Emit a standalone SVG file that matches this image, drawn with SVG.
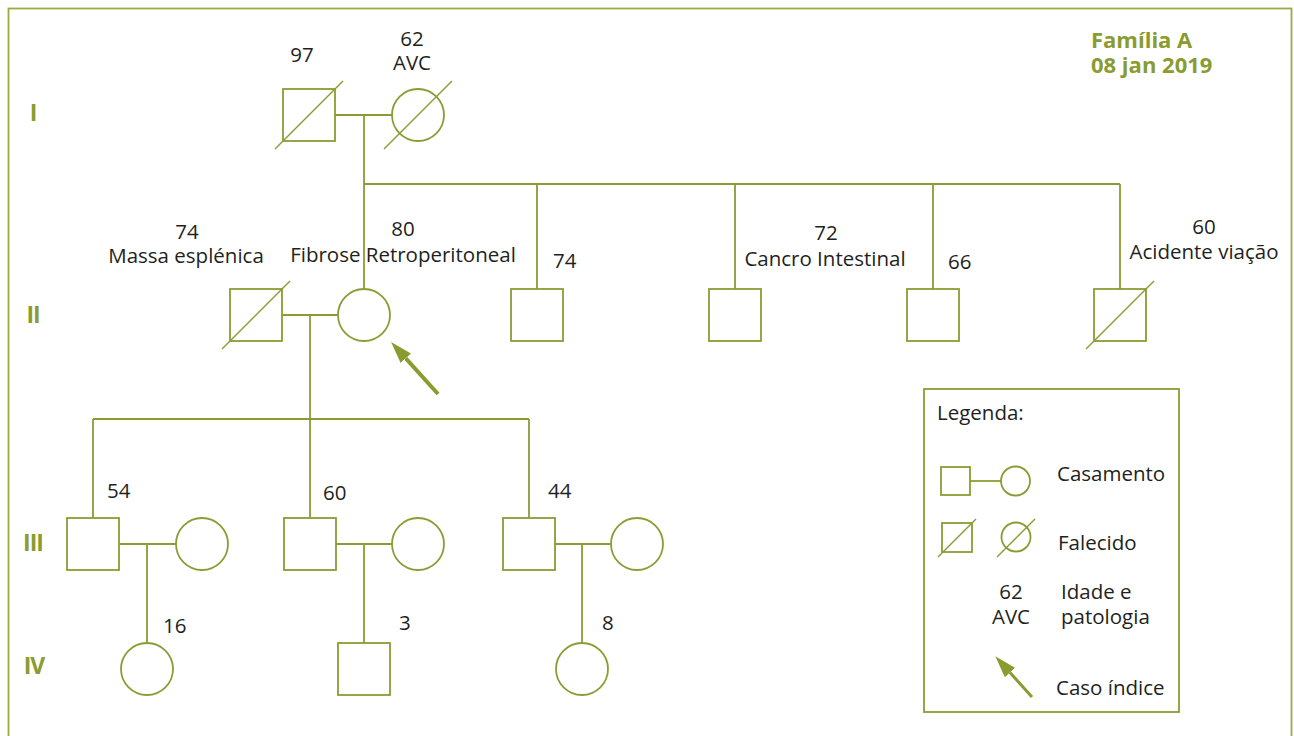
<svg xmlns="http://www.w3.org/2000/svg" width="1294" height="736" viewBox="0 0 1294 736">
<style>
.s{fill:#fff;stroke:#8c9c34;stroke-width:1.8}
.l{fill:none;stroke:#8c9c34;stroke-width:1.8}
.d{stroke:#8c9c34;stroke-width:1.5}
.t{font-family:"Open Sans","Noto Sans",sans-serif;font-size:20.5px;fill:#231f20}
.m{text-anchor:middle}
.g{font-family:"Open Sans","Noto Sans",sans-serif;font-weight:bold;fill:#8a9c30}
.r{font-size:23px;text-anchor:middle;letter-spacing:-1px}
.ti{font-size:22px}
</style>
<defs>
<marker id="ah" viewBox="0 0 22 14" refX="0" refY="7" markerWidth="22" markerHeight="14" markerUnits="userSpaceOnUse" orient="auto">
<path d="M0,0 L22,7 L0,14 z" fill="#8a9c30"/>
</marker>
</defs>
<rect x="8.5" y="8.5" width="1283" height="760" fill="#fff" stroke="#9aab45" stroke-width="1.8"/>
<g id="title">
<text class="g ti" x="1091" y="48">Família A</text>
<text class="g ti" x="1091" y="73">08 jan 2019</text>
</g>
<g id="generations">
<text class="g r" x="33" y="121">I</text>
<text class="g r" x="33" y="323">II</text>
<text class="g r" x="33" y="551">III</text>
<text class="g r" x="34" y="674">IV</text>
</g>
<g id="connectors">
<path class="l" d="M335,115 H392 M364,115 V184 M364,184 H1120 M364,184 V289 M537,184 V289 M735,184 V289 M933,184 V289 M1120,184 V289"/>
<path class="l" d="M283,315 H338 M310,315 V419 M93,419 H529 M93,419 V518 M310,419 V518 M529,419 V518"/>
<path class="l" d="M119,544 H176 M147,544 V643 M336,544 H392 M364,544 V643 M555,544 H611 M582,544 V643"/>
<line x1="438" y1="394" x2="405.8" y2="358.3" stroke="#8a9c30" stroke-width="4" marker-end="url(#ah)"/>
</g>
<g id="I-1">
<rect class="s" x="283" y="89" width="52" height="52"/>
<line class="d" x1="275" y1="149" x2="343" y2="81"/>
<text class="t m" x="302" y="62">97</text>
</g>
<g id="I-2">
<circle class="s" cx="418" cy="115" r="26"/>
<line class="d" x1="384" y1="149" x2="452" y2="81"/>
<text class="t m" x="412" y="46">62</text>
<text class="t m" x="412" y="70">AVC</text>
</g>
<g id="II-1">
<rect class="s" x="230" y="289" width="52" height="52"/>
<line class="d" x1="222" y1="349" x2="290" y2="281"/>
<text class="t m" x="187" y="239">74</text>
<text class="t m" x="186" y="263">Massa esplénica</text>
</g>
<g id="II-2">
<circle class="s" cx="364" cy="315" r="26"/>
<text class="t m" x="403" y="236">80</text>
<text class="t m" x="403" y="262">Fibrose Retroperitoneal</text>
</g>
<g id="II-3">
<rect class="s" x="511" y="289" width="52" height="52"/>
<text class="t" x="553" y="268">74</text>
</g>
<g id="II-4">
<rect class="s" x="709" y="289" width="52" height="52"/>
<text class="t m" x="826" y="240">72</text>
<text class="t m" x="825" y="266">Cancro Intestinal</text>
</g>
<g id="II-5">
<rect class="s" x="907" y="289" width="52" height="52"/>
<text class="t" x="948" y="269">66</text>
</g>
<g id="II-6">
<rect class="s" x="1094" y="289" width="52" height="52"/>
<line class="d" x1="1086" y1="349" x2="1154" y2="281"/>
<text class="t m" x="1204" y="234">60</text>
<text class="t m" x="1204" y="259">Acidente viação</text>
</g>
<g id="III-1">
<rect class="s" x="67" y="518" width="52" height="52"/>
<text class="t" x="107" y="498">54</text>
</g>
<g id="III-1s">
<circle class="s" cx="202" cy="544" r="26"/>
</g>
<g id="III-2">
<rect class="s" x="284" y="518" width="52" height="52"/>
<text class="t" x="323" y="500">60</text>
</g>
<g id="III-2s">
<circle class="s" cx="418" cy="544" r="26"/>
</g>
<g id="III-3">
<rect class="s" x="503" y="518" width="52" height="52"/>
<text class="t" x="548" y="498">44</text>
</g>
<g id="III-3s">
<circle class="s" cx="637" cy="544" r="26"/>
</g>
<g id="IV-1">
<circle class="s" cx="147" cy="669" r="26"/>
<text class="t" x="163" y="633">16</text>
</g>
<g id="IV-2">
<rect class="s" x="338" y="643" width="52" height="52"/>
<text class="t" x="399" y="630">3</text>
</g>
<g id="IV-3">
<circle class="s" cx="582" cy="669" r="26"/>
<text class="t" x="602" y="630">8</text>
</g>
<g id="legend">
<rect class="l" x="924" y="389" width="255" height="323"/>
<text class="t" x="937" y="420">Legenda:</text>
<rect class="s" x="941" y="467" width="29" height="28"/>
<line class="l" x1="970" y1="481" x2="1001" y2="481"/>
<circle class="s" cx="1015.5" cy="481" r="14.5"/>
<text class="t" x="1057" y="481">Casamento</text>
<rect class="s" x="942" y="523" width="30" height="29"/>
<line class="d" x1="938" y1="557" x2="976" y2="519"/>
<circle class="s" cx="1016" cy="537" r="14.5"/>
<line class="d" x1="997" y1="557" x2="1035" y2="519"/>
<text class="t" x="1058" y="550">Falecido</text>
<text class="t m" x="1011" y="599">62</text>
<text class="t m" x="1011" y="624">AVC</text>
<text class="t" x="1061" y="599">Idade e</text>
<text class="t" x="1061" y="624">patologia</text>
<line x1="1032" y1="697" x2="1010" y2="672.5" stroke="#8a9c30" stroke-width="3" marker-end="url(#ah)"/>
<text class="t" x="1056" y="695">Caso índice</text>
</g>
</svg>
